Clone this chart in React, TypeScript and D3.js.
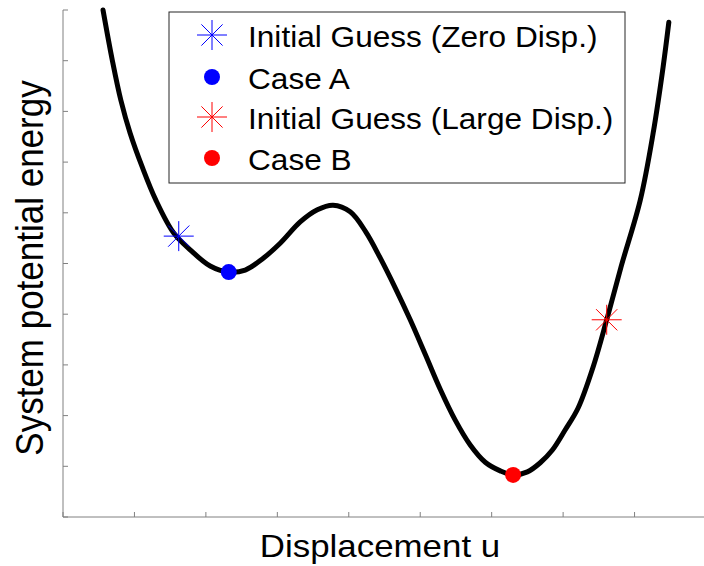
import * as d3 from 'd3';

// energy curve (u = displacement, e = potential energy)
const curveU = [0.56, 0.69, 0.81, 0.94, 1.11, 1.30, 1.55, 1.78, 2.06, 2.32, 2.55, 2.79, 3.04, 3.32, 3.56, 3.78, 4.02, 4.24, 4.44, 4.65, 4.86, 5.07, 5.28, 5.49, 5.70, 5.91, 6.12, 6.30, 6.50, 6.68, 6.85, 7.03, 7.21, 7.42, 7.61, 7.81, 8.08, 8.26, 8.40, 8.48];
const curveE = [10.0, 9.01, 8.22, 7.57, 6.90, 6.25, 5.60, 5.27, 4.95, 4.83, 4.87, 5.09, 5.40, 5.82, 6.06, 6.15, 6.02, 5.62, 5.11, 4.52, 3.89, 3.21, 2.52, 1.91, 1.42, 1.08, 0.91, 0.83, 0.89, 1.07, 1.32, 1.72, 2.15, 2.96, 3.89, 4.93, 6.25, 7.57, 8.88, 9.76];

// markers
const markerNames = ['Initial Guess (Zero Disp.)', 'Case A', 'Initial Guess (Large Disp.)', 'Case B'];
const markerShapes = ['star', 'dot', 'star', 'dot'];
const markerColors = ['#0000ff', '#0000ff', '#ff0000', '#ff0000'];
const markerU = [1.62, 2.32, 7.61, 6.30];
const markerE = [5.54, 4.83, 3.89, 0.83];

const xTicks = d3.range(0, 10);
const yTicks = d3.range(0, 11);

const W = 704;
const H = 566;
const FONT = '"Liberation Sans", Arial, sans-serif';
const STRETCH = 1.09;

function Star({ x, y, color }: { x: number; y: number; color: string }) {
    const r = 15;
    const d = r / Math.SQRT2;
    return (
        <g stroke={color} strokeWidth={1}>
            <line x1={x - r} y1={y} x2={x + r} y2={y} />
            <line x1={x} y1={y - r} x2={x} y2={y + r} />
            <line x1={x - d} y1={y - d} x2={x + d} y2={y + d} />
            <line x1={x - d} y1={y + d} x2={x + d} y2={y - d} />
        </g>
    );
}

function Marker({ shape, x, y, color }: { shape: string; x: number; y: number; color: string }) {
    if (shape === 'star') return <Star x={x} y={y} color={color} />;
    return <circle cx={x} cy={y} r={8} fill={color} />;
}

export default function App() {
    const xScale = d3.scaleLinear().domain([0, 9]).range([63, 706]);
    const yScale = d3.scaleLinear().domain([0, 10]).range([517, 10]);

    const points: [number, number][] = curveU.map((u, i) => [u, curveE[i]]);
    const line = d3.line<[number, number]>()
        .x(d => xScale(d[0]))
        .y(d => yScale(d[1]))
        .curve(d3.curveCatmullRom.alpha(0.5));

    const axisColor = '#808080';
    const legend = { x: 169, y: 12, w: 456, h: 171 };
    const rowY = [35, 77, 117, 158];

    return (
        <svg width={W} height={H} style={{ position: 'absolute', left: 0, top: 0, background: '#fff' }} fontFamily={FONT}>
            <rect x={0} y={0} width={W} height={H} fill="#fff" />

            {/* axes */}
            <line x1={xScale(0)} x2={W} y1={yScale(0)} y2={yScale(0)} stroke={axisColor} strokeWidth={1} />
            <line x1={xScale(0)} x2={xScale(0)} y1={yScale(0)} y2={yScale(10)} stroke={axisColor} strokeWidth={1} />
            {xTicks.map(t => (
                <line key={`xt${t}`} x1={xScale(t)} x2={xScale(t)} y1={yScale(0)} y2={yScale(0) - 5} stroke={axisColor} />
            ))}
            {yTicks.map(t => (
                <line key={`yt${t}`} x1={xScale(0)} x2={xScale(0) + 5} y1={yScale(t)} y2={yScale(t)} stroke={axisColor} />
            ))}

            {/* energy curve */}
            <path d={line(points) ?? ''} fill="none" stroke="#000" strokeWidth={5} strokeLinejoin="round" strokeLinecap="round" />

            {/* markers on the curve */}
            {markerU.map((u, i) => (
                <Marker key={`m${i}`} shape={markerShapes[i]} x={xScale(u)} y={yScale(markerE[i])} color={markerColors[i]} />
            ))}

            {/* legend */}
            <rect x={legend.x} y={legend.y} width={legend.w} height={legend.h} fill="#fff" stroke="#262626" strokeWidth={1} />
            {markerNames.map((name, i) => (
                <g key={`lg${i}`}>
                    <Marker shape={markerShapes[i]} x={212} y={rowY[i]} color={markerColors[i]} />
                    <text transform={`translate(248,${rowY[i] + 12}) scale(${STRETCH},1)`} fontSize={29} fill="#000">{name}</text>
                </g>
            ))}

            {/* axis labels */}
            <text transform={`translate(380,557) scale(${STRETCH},1)`} fontSize={32} textAnchor="middle" fill="#000">Displacement u</text>
            <text transform={`translate(43,268) scale(${STRETCH},1) rotate(-90)`} fontSize={35} textAnchor="middle" fill="#000">System potential energy</text>
        </svg>
    );
}
